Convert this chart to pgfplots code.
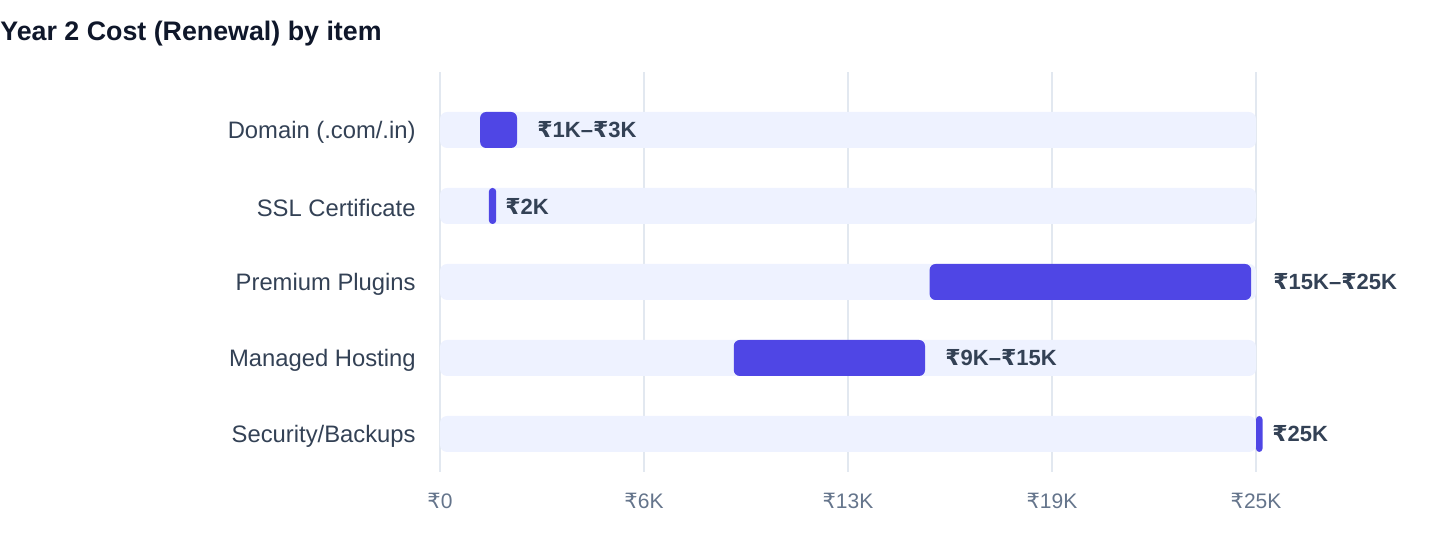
\documentclass[border=0pt]{standalone}
\usepackage{pgfplots}
\usepackage{pgfplotstable}
\pgfplotsset{compat=1.18}
\usepackage{fontspec}
\setmainfont{Liberation Sans}
\newfontfamily\rupeefont{DejaVu Sans}
\newcommand\Rs{{\rupeefont\char"20B9}}

\definecolor{barcol}{HTML}{4F46E5}
\definecolor{trackcol}{HTML}{EEF2FF}
\definecolor{gridcol}{HTML}{E2E8F0}
\definecolor{labelcol}{HTML}{334155}
\definecolor{tickcol}{HTML}{64748B}
\definecolor{titlecol}{HTML}{0F172A}

% rows: 0 = Domain, 1 = SSL, 2 = Premium Plugins, 3 = Managed Hosting, 4 = Security/Backups
\pgfplotstableread{
row lo len
0 1.23 1.13
2 15.0 9.85
3 9.0 5.86
}\bigbars
\pgfplotstableread{
row lo len
1 1.50 0.22
4 25.0 0.20
}\smallbars
% value labels: left edge of each label, in thousands
\pgfplotstableread{
row at label
0 2.97 \Rs1K–\Rs3K
1 1.99 \Rs2K
2 25.52 \Rs15K–\Rs25K
3 15.47 \Rs9K–\Rs15K
4 25.49 \Rs25K
}\valuelabels

\pgfplotsset{
  rowaxis/.style={
    scale only axis, width=408pt, height=200pt,
    xmin=0, xmax=25, ymin=-0.763, ymax=4.5, y dir=reverse,
    clip=false,
  },
}

\begin{document}
\begin{tikzpicture}
\useasboundingbox (-220pt,-44pt) rectangle (500pt,236pt);
\node[anchor=west, inner sep=0pt, text=titlecol, font=\fontsize{13.4}{15}\selectfont\bfseries]
  at (-220pt,219pt) {Year 2 Cost (Renewal) by item};

% grid, ticks, background tracks and value labels
\begin{axis}[rowaxis,
  axis line style={draw=none},
  major tick length=0pt,
  xmajorgrids, major grid style={draw=gridcol, line width=1pt},
  xtick={0,6.25,12.5,18.75,25},
  xticklabels={\Rs0,\Rs6K,\Rs13K,\Rs19K,\Rs25K},
  xticklabel style={inner sep=0pt, yshift=-10.5pt, text=tickcol, font=\fontsize{10.5}{12}\selectfont},
  ytick={0,1,2,3,4},
  yticklabels={Domain (.com/.in),SSL Certificate,Premium Plugins,Managed Hosting,Security/Backups},
  yticklabel style={inner sep=0pt, xshift=-12pt, yshift=-1pt, anchor=east, text=labelcol, font=\fontsize{11.9}{14}\selectfont},
]
\addplot[xbar, bar width=18pt, bar shift=0pt, fill=trackcol, draw=none, rounded corners=3.5pt]
  coordinates {(25,0) (25,1) (25,2) (25,3) (25,4)};
\addplot[only marks, mark=none, point meta=explicit symbolic,
  nodes near coords,
  every node near coord/.style={anchor=west, inner sep=0pt, text=labelcol,
    font=\fontsize{11}{13}\selectfont\bfseries}]
  table[x=at, y=row, meta=label] {\valuelabels};
\end{axis}

% wide range bars
\begin{axis}[rowaxis, hide axis, xbar stacked, bar width=18pt, bar shift=0pt]
\addplot[draw=none, fill=none] table[x=lo, y=row] {\bigbars};
\addplot[fill=barcol, draw=none, rounded corners=3pt] table[x=len, y=row] {\bigbars};
\end{axis}

% narrow range bars
\begin{axis}[rowaxis, hide axis, xbar stacked, bar width=18pt, bar shift=0pt]
\addplot[draw=none, fill=none] table[x=lo, y=row] {\smallbars};
\addplot[fill=barcol, draw=none, rounded corners=1.7pt] table[x=len, y=row] {\smallbars};
\end{axis}
\end{tikzpicture}
\end{document}
